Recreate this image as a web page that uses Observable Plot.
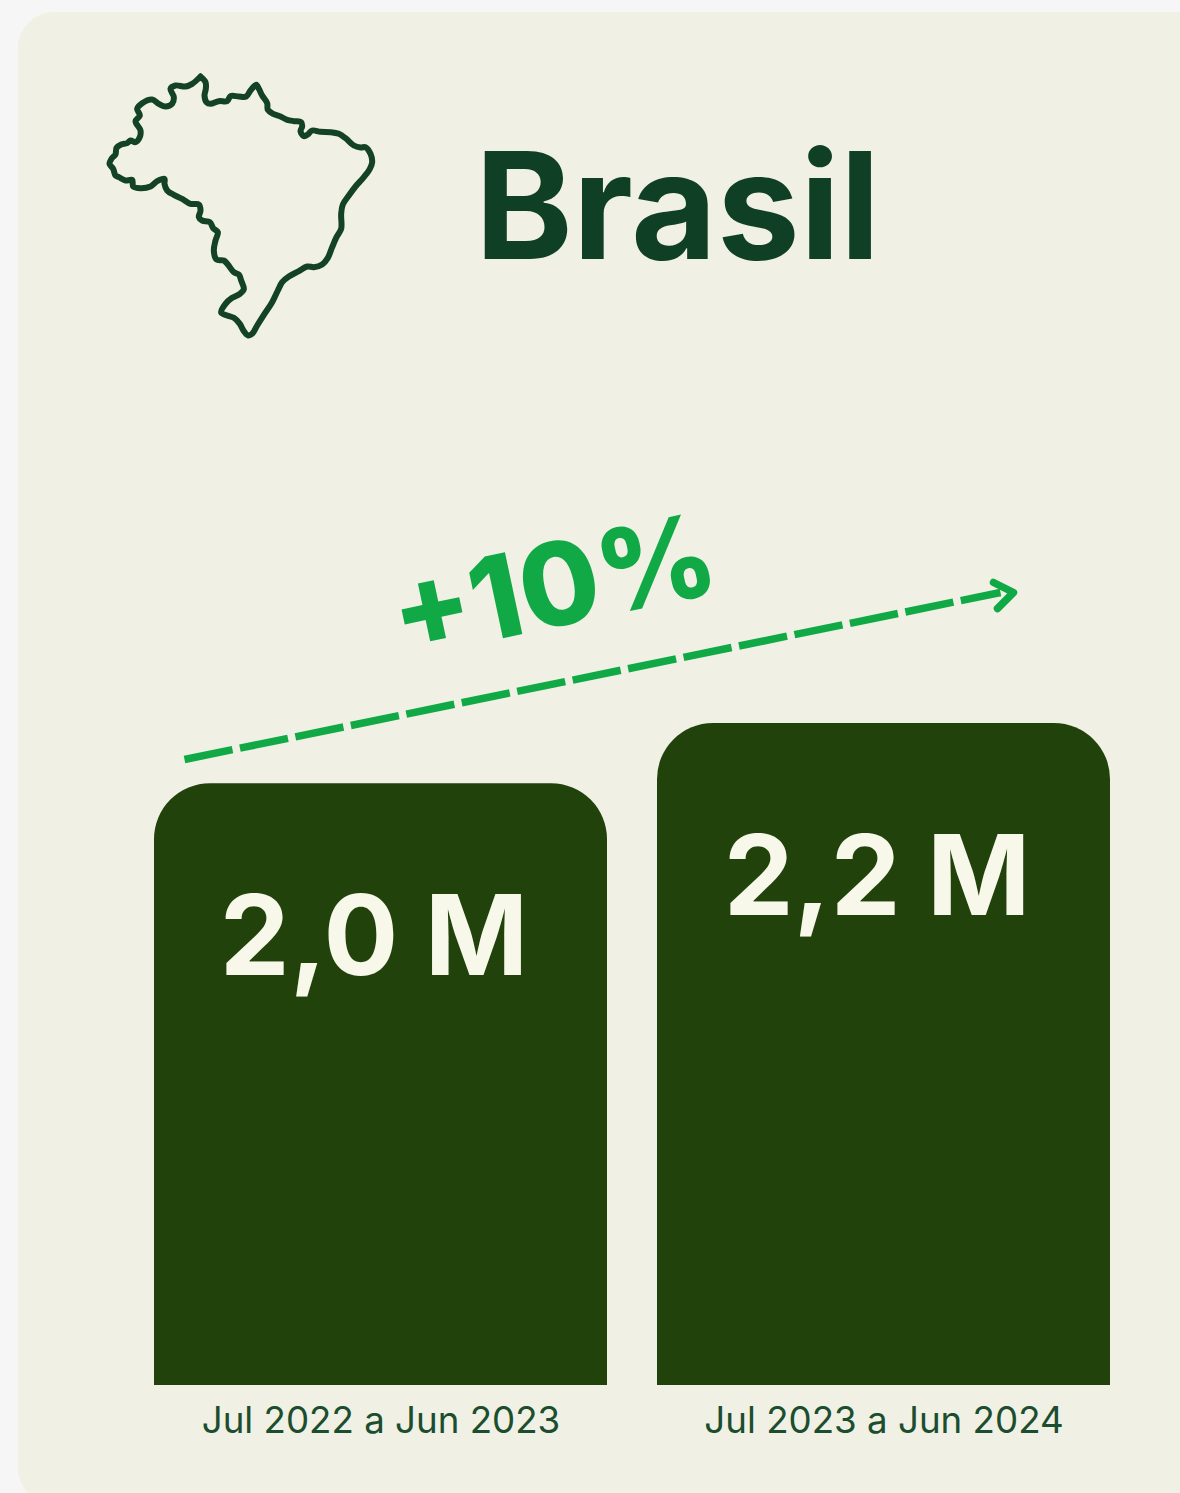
<!DOCTYPE html>
<html>
<head>
<meta charset="utf-8">
<script src="https://cdn.jsdelivr.net/npm/d3@7"></script>
<script src="https://cdn.jsdelivr.net/npm/@observablehq/plot@0.6"></script>
<style>
html,body{margin:0;padding:0;background:#f6f6f6;}
#page{position:relative;width:1180px;height:1493px;overflow:hidden;}
#card{position:absolute;left:18px;top:12px;width:1200px;height:1492px;background:#f0f0e4;border-radius:36px;}
#page svg{position:absolute;left:0;top:0;}
</style>
</head>
<body>
<div id="page"><div id="card"></div></div>
<script>
const periods = ["Jul 2022 a Jun 2023", "Jul 2023 a Jun 2024"];
const millions = [2.0, 2.2];
const valueLabels = ["2,0 M", "2,2 M"];
const title = "Brasil";
const changeLabel = "+10%";
const trendX = [184, 1000];
const trendY = [759, 592];
const headX = [993, 1013, 997];
const headY = [582, 592, 608];
const brazilX = [330,345,346,342,348,360,385,410,420,445,467,480,497,505,515,530,532,548,570,590,612,632,635,630,640,652,665,690,720,745,765,790,810,825,840,845,838,820,795,775,757,752,752,738,725,712,695,670,650,625,595,575,562,545,522,500,485,473,460,448,430,410,392,405,425,448,460,452,445,430,412,400,378,370,375,382,368,358,335,325,330,325,300,275,250,230,222,222,200,180,150,128,125,105,85,75,68,57,65,75,78,92,110,120,135,147,150,135,148,140,155,185,205,225,245,250,240,255,285,305,330];
const brazilY = [48,65,85,105,125,130,122,122,107,108,108,90,73,85,105,128,148,160,168,178,182,185,198,212,227,222,210,214,215,220,233,255,261,260,280,305,325,350,378,405,432,460,505,530,560,592,612,620,618,632,648,665,690,725,760,795,820,825,812,790,772,765,756,730,712,700,686,660,642,635,612,600,597,570,540,515,503,485,480,470,450,432,430,415,403,390,370,355,362,378,383,378,358,360,350,345,325,310,292,282,262,252,248,240,245,232,210,182,165,145,128,117,130,138,130,110,85,75,78,70,48];

const font = "Inter, 'Noto Sans', sans-serif";
const page = document.getElementById("page");
const bars = periods.map((period, i) => ({period, value: millions[i], label: valueLabels[i]}));

const chart = Plot.plot({
  width: 1180, height: 1493,
  marginTop: 0, marginLeft: 154, marginRight: 70, marginBottom: 108,
  style: {background: "transparent"},
  x: {domain: periods, range: [154, 1110], paddingInner: 0.0994, paddingOuter: 0, round: false, axis: null},
  y: {domain: [0, 2.2], range: [1385, 723], axis: null},
  marks: [
    Plot.barY(bars, {x: "period", y: "value", fill: "#22420c", rx1y1: 56, rx2y1: 56}),
    Plot.text(bars, {x: "period", y: "value", text: "label", dx: -7, dy: 156, fill: "#f8f8ea", fontSize: 111, fontWeight: 700, fontFamily: font}),
    Plot.axisX({tickSize: 0, tickPadding: 21, fontSize: 36.7, fill: "#1b4d2e", fontFamily: font, label: null, anchor: "bottom"})
  ]
});
page.appendChild(chart);

const overlay = Plot.plot({
  width: 1180, height: 1493, margin: 0,
  style: {background: "transparent"},
  x: {domain: [0, 1180], range: [0, 1180], axis: null},
  y: {domain: [0, 1493], range: [0, 1493], axis: null},
  marks: [
    Plot.link([0], {x1: () => trendX[0], y1: () => trendY[0], x2: () => trendX[1], y2: () => trendY[1], stroke: "#10a946", strokeWidth: 7.5, strokeDasharray: "49 7.6"}),
    Plot.line(headX.map((x, i) => [x, headY[i]]), {stroke: "#10a946", strokeWidth: 7.5, strokeLinecap: "round", strokeLinejoin: "round"}),
    Plot.text([changeLabel], {x: () => 554, y: () => 589, text: d => d, rotate: -12, fill: "#10a946", fontSize: 115, fontWeight: 800, fontFamily: font}),
    Plot.text([title], {x: () => 677, y: () => 211, text: d => d, fill: "#0f3f24", fontSize: 148, fontWeight: 700, fontFamily: font})
  ]
});
page.appendChild(overlay);

const map = Plot.plot({
  width: 300, height: 290, margin: 0,
  style: {background: "transparent", left: "90px", top: "60px"},
  x: {domain: [0, 900], range: [0, 300], axis: null},
  y: {domain: [0, 870], range: [0, 290], axis: null},
  marks: [
    Plot.line(brazilX.map((x, i) => [x, brazilY[i]]), {curve: "catmull-rom", stroke: "#134225", strokeWidth: 6, strokeLinejoin: "round"})
  ]
});
page.appendChild(map);
</script>
</body>
</html>
